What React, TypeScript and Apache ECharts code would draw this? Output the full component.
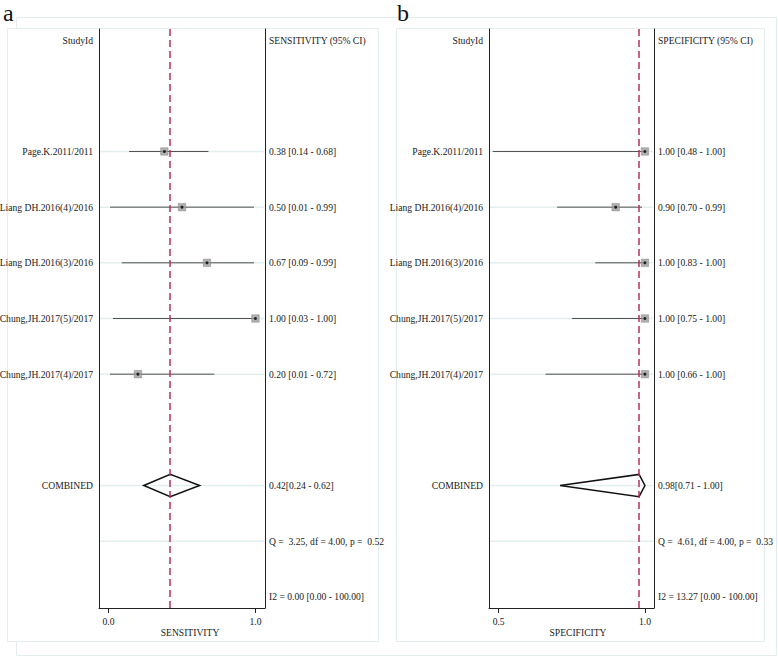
import React, { useEffect, useRef } from "react";
import * as echarts from "echarts";

// ---- data ----
const studies = [
  "Page.K.2011/2011",
  "Liang DH.2016(4)/2016",
  "Liang DH.2016(3)/2016",
  "Chung,JH.2017(5)/2017",
  "Chung,JH.2017(4)/2017",
];
const sensEst = [0.38, 0.5, 0.67, 1.0, 0.2];
const sensLo = [0.14, 0.01, 0.09, 0.03, 0.01];
const sensHi = [0.68, 0.99, 0.99, 1.0, 0.72];
const specEst = [1.0, 0.9, 1.0, 1.0, 1.0];
const specLo = [0.48, 0.7, 0.83, 0.75, 0.66];
const specHi = [1.0, 0.99, 1.0, 1.0, 1.0];
const sensPooled = [0.42, 0.24, 0.62];
const specPooled = [0.98, 0.71, 1.0];
const sensQ = "Q =  3.25, df = 4.00, p =  0.52";
const sensI2 = "I2 = 0.00 [0.00 - 100.00]";
const specQ = "Q =  4.61, df = 4.00, p =  0.33";
const specI2 = "I2 = 13.27 [0.00 - 100.00]";
const sensTicks = [0, 1];
const specTicks = [0.5, 1];
const studyRows = [0, 1, 2, 3, 4];
const headerRow = -2;
const combinedRow = 6;
const qRow = 7;
const i2Row = 8;
const gridRows = [0, 1, 2, 3, 4, 6, 7];

const FONT = "Liberation Serif";
const FS = 9.6;
const TXT = "#1a1a1a";

function fmt(e: number, l: number, h: number, sep: string) {
  return `${e.toFixed(2)}${sep}[${l.toFixed(2)} - ${h.toFixed(2)}]`;
}

function textSeries(
  idx: number,
  items: { x: number; row: number; text: string }[],
  align: "left" | "right",
  dx: number
) {
  return {
    type: "custom",
    xAxisIndex: idx,
    yAxisIndex: idx * 2,
    clip: false,
    silent: true,
    z: 5,
    data: items.map((d) => [d.x, d.row]),
    renderItem: (params: any, api: any) => {
      const p = api.coord([api.value(0), api.value(1)]);
      return {
        type: "text",
        x: p[0] + dx,
        y: p[1],
        style: {
          text: items[params.dataIndex].text,
          fill: TXT,
          fontSize: FS,
          fontFamily: FONT,
          align,
          verticalAlign: "middle",
        },
      };
    },
  };
}

function panelSeries(
  idx: number,
  xMin: number,
  xMax: number,
  est: number[],
  lo: number[],
  hi: number[],
  pooled: number[],
  header: string,
  qText: string,
  i2Text: string
) {
  const yi = idx * 2;
  const series: any[] = [];
  // light row lines
  series.push({
    type: "custom",
    xAxisIndex: idx,
    yAxisIndex: yi,
    silent: true,
    z: 1,
    data: gridRows.map((r) => [r]),
    renderItem: (params: any, api: any) => {
      const a = api.coord([xMin, api.value(0)]);
      const b = api.coord([xMax, api.value(0)]);
      return {
        type: "line",
        shape: { x1: a[0] + 1, y1: a[1], x2: b[0] - 1, y2: b[1] },
        style: { stroke: "#e3eeee", lineWidth: 1.5 },
      };
    },
  });
  // CI lines
  series.push({
    type: "custom",
    xAxisIndex: idx,
    yAxisIndex: yi,
    silent: true,
    z: 3,
    data: studyRows.map((r, i) => [lo[i], hi[i], r]),
    renderItem: (params: any, api: any) => {
      const a = api.coord([api.value(0), api.value(2)]);
      const b = api.coord([api.value(1), api.value(2)]);
      return {
        type: "line",
        shape: { x1: a[0], y1: a[1], x2: b[0], y2: b[1] },
        style: { stroke: "#505050", lineWidth: 1 },
      };
    },
    markLine: {
      silent: true,
      symbol: "none",
      label: { show: false },
      lineStyle: { color: "#b8305f", type: [7, 4], width: 1.5 },
      data: [{ xAxis: pooled[0] }],
    },
  });
  // squares
  series.push({
    type: "scatter",
    xAxisIndex: idx,
    yAxisIndex: yi,
    symbol: "rect",
    symbolSize: 7.5,
    silent: true,
    z: 4,
    itemStyle: { color: "#9c9c9c", borderColor: "#7a7a7a", borderWidth: 0.5 },
    data: studyRows.map((r, i) => [est[i], r]),
  });
  series.push({
    type: "scatter",
    xAxisIndex: idx,
    yAxisIndex: yi,
    symbol: "circle",
    symbolSize: 3,
    silent: true,
    z: 5,
    itemStyle: { color: "#000" },
    data: studyRows.map((r, i) => [est[i], r]),
  });
  // diamond
  series.push({
    type: "custom",
    xAxisIndex: idx,
    yAxisIndex: yi,
    silent: true,
    z: 4,
    data: [[pooled[0], pooled[1], pooled[2], combinedRow]],
    renderItem: (params: any, api: any) => {
      const e = api.value(0),
        l = api.value(1),
        h = api.value(2),
        r = api.value(3);
      const pts = [
        api.coord([l, r]),
        api.coord([e, r - 0.2]),
        api.coord([h, r]),
        api.coord([e, r + 0.2]),
      ];
      return {
        type: "polygon",
        shape: { points: pts },
        style: { fill: "none", stroke: "#111", lineWidth: 1.5 },
      };
    },
  });
  // left labels
  const leftItems = [
    { x: xMin, row: headerRow, text: "StudyId" },
    ...studyRows.map((r, i) => ({ x: xMin, row: r, text: studies[i] })),
    { x: xMin, row: combinedRow, text: "COMBINED" },
  ];
  series.push(textSeries(idx, leftItems, "right", -6));
  const rightItems = [
    { x: xMax, row: headerRow, text: header },
    ...studyRows.map((r, i) => ({ x: xMax, row: r, text: fmt(est[i], lo[i], hi[i], " ") })),
    { x: xMax, row: combinedRow, text: fmt(pooled[0], pooled[1], pooled[2], "") },
    { x: xMax, row: qRow, text: qText },
    { x: xMax, row: i2Row, text: i2Text },
  ];
  series.push(textSeries(idx, rightItems, "left", 4));
  return series;
}

function xAxisCfg(idx: number, min: number, max: number, ticks: number[]) {
  return {
    type: "value",
    gridIndex: idx,
    min,
    max,
    axisLine: { show: true, onZero: false, lineStyle: { color: "#222", width: 1 } },
    axisTick: { show: true, customValues: ticks, length: 5, lineStyle: { color: "#222" } },
    axisLabel: {
      show: true,
      customValues: ticks,
      formatter: (v: number) => v.toFixed(1),
      fontSize: FS,
      fontFamily: FONT,
      color: TXT,
      margin: 8,
    },
    splitLine: { show: false },
  };
}

function yAxisCfg(idx: number, pos: "left" | "right") {
  return {
    type: "value",
    gridIndex: idx,
    position: pos,
    min: -2.2,
    max: 8.2,
    inverse: true,
    axisLine: { show: true, onZero: false, lineStyle: { color: "#222", width: 1 } },
    axisTick: { show: false },
    axisLabel: { show: false },
    splitLine: { show: false },
  };
}

const sensMin = -0.065,
  sensMax = 1.065;
const specMin = 0.467,
  specMax = 1.031;

export default function App() {
  const ref = useRef<HTMLDivElement>(null);
  useEffect(() => {
    if (!ref.current) return;
    const chart = echarts.init(ref.current, null, { renderer: "svg" });
    const frame = "#e4eeee";
    chart.setOption({
      animation: false,
      backgroundColor: "#fff",
      textStyle: { fontFamily: FONT },
      grid: [
        { left: 99, top: 29, width: 166, height: 579 },
        { left: 489, top: 29, width: 165, height: 579 },
      ],
      xAxis: [
        xAxisCfg(0, sensMin, sensMax, sensTicks),
        xAxisCfg(1, specMin, specMax, specTicks),
      ],
      yAxis: [yAxisCfg(0, "left"), yAxisCfg(0, "right"), yAxisCfg(1, "left"), yAxisCfg(1, "right")],
      series: [
        ...panelSeries(0, sensMin, sensMax, sensEst, sensLo, sensHi, sensPooled, "SENSITIVITY (95% CI)", sensQ, sensI2),
        ...panelSeries(1, specMin, specMax, specEst, specLo, specHi, specPooled, "SPECIFICITY (95% CI)", specQ, specI2),
      ],
      graphic: [
        { type: "rect", z: -1, shape: { x: 16.5, y: 17.5, width: 760, height: 638 }, style: { fill: "none", stroke: frame, lineWidth: 1 } },
        { type: "rect", z: -1, shape: { x: 7.5, y: 28.5, width: 371, height: 613 }, style: { fill: "#fff", stroke: frame, lineWidth: 1 } },
        { type: "rect", z: -1, shape: { x: 396.5, y: 28.5, width: 368, height: 613 }, style: { fill: "#fff", stroke: frame, lineWidth: 1 } },
        { type: "text", x: 3, y: 1, style: { text: "a", fontSize: 24, fontFamily: FONT, fill: "#111" } },
        { type: "text", x: 397, y: 1, style: { text: "b", fontSize: 24, fontFamily: FONT, fill: "#111" } },
        { type: "text", x: 190, y: 632, style: { text: "SENSITIVITY", fontSize: FS, fontFamily: FONT, fill: TXT, align: "center", verticalAlign: "middle" } },
        { type: "text", x: 578, y: 632, style: { text: "SPECIFICITY", fontSize: FS, fontFamily: FONT, fill: TXT, align: "center", verticalAlign: "middle" } },
      ],
    });
    return () => chart.dispose();
  }, []);
  return (
    <div
      ref={ref}
      style={{ position: "absolute", left: 0, top: 0, width: 778, height: 658 }}
    />
  );
}
